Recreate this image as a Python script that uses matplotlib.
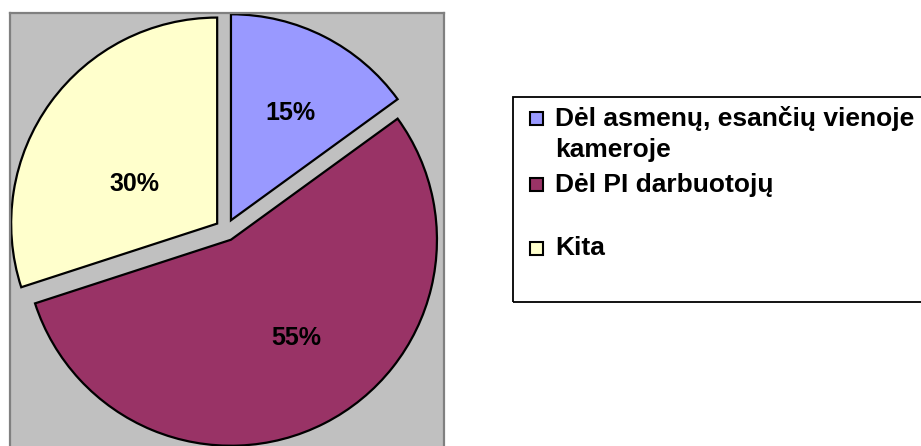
import matplotlib.pyplot as plt
from matplotlib.patches import Rectangle

# Data
labels = ["Dėl asmenų, esančių vienoje\nkameroje", "Dėl PI darbuotojų", "Kita"]
values = [15, 55, 30]
colors = ["#9999FF", "#993366", "#FFFFCC"]

plt.rcParams['font.family'] = ['Liberation Sans', 'DejaVu Sans']
plt.rcParams['font.weight'] = 'bold'

W, H = 921, 446
fig = plt.figure(figsize=(W / 100, H / 100), dpi=100)
fig.patch.set_facecolor('white')

# plot area (pixels): gray box
left, right, top, bottom = 10, 444, 13, 452
cx, cy, R = 226, 230, 206
ax = fig.add_axes([left / W, (H - bottom) / H, (right - left) / W, (bottom - top) / H])
ax.set_facecolor('#C0C0C0')

wedges, texts, autotexts = ax.pie(values, colors=colors, startangle=90, counterclock=False,
                                  explode=[0.053] * 3, autopct='%.0f%%', pctdistance=0.6,
                                  wedgeprops=dict(edgecolor='black', linewidth=1.6),
                                  textprops=dict(fontsize=18, fontweight='bold', color='black'))
# label offsets from each wedge centre, Excel puts them a bit differently
label_off = [(0.29, 0.52), (0.316, -0.476), (-0.40, 0.19)]
for w, t, (dx, dy) in zip(wedges, autotexts, label_off):
    t.set_position((w.center[0] + dx, w.center[1] + dy))

ax.set_aspect('auto')
ax.set_xlim((left - cx) / R, (right - cx) / R)
ax.set_ylim(-(bottom - cy) / R, (cy - top) / R)
ax.set_frame_on(True)
for s in ax.spines.values():
    s.set_color('#808080')
    s.set_linewidth(1.6)
ax.set_xticks([])
ax.set_yticks([])

# legend drawn by hand, Excel style
def fx(x):
    return x / W

def fy(y):
    return (H - y) / H

fig.patches.append(Rectangle((fx(513), fy(302)), fx(930) - fx(513), fy(97) - fy(302),
                             transform=fig.transFigure, fill=False, edgecolor='black', linewidth=1.3))
rows = [118, 185, 248]
for lab, col, y in zip(labels, colors, rows):
    fig.patches.append(Rectangle((fx(530), fy(y + 6.5)), fx(543) - fx(530), fy(y - 6.5) - fy(y + 6.5),
                                 transform=fig.transFigure, facecolor=col, edgecolor='black', linewidth=1.5))
    fig.text(fx(555), fy(y - 12), lab, fontsize=19, fontweight='bold', va='top', ha='left',
             linespacing=1.35)

fig.savefig('out.png', dpi=100)
